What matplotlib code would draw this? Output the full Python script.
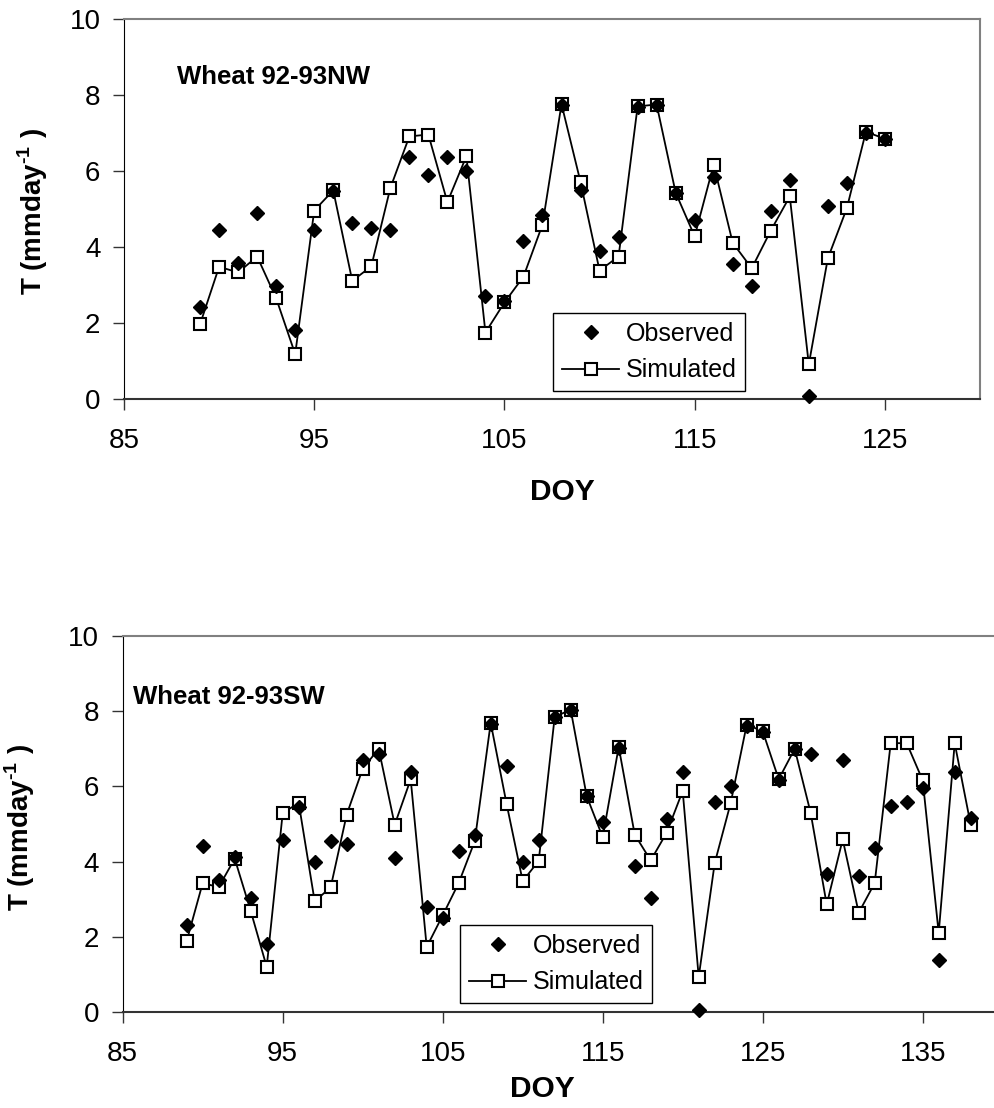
import numpy as np
import matplotlib
matplotlib.use("Agg")
import matplotlib.pyplot as plt

plt.rcParams['font.family'] = ['Liberation Sans', 'DejaVu Sans']
plt.rcParams['mathtext.fontset'] = 'custom'
plt.rcParams['mathtext.rm'] = 'Liberation Sans:bold'
plt.rcParams['mathtext.bf'] = 'Liberation Sans:bold'

# Wheat 92-93 NW
doy_nw = list(range(89, 126))
obs_nw = [2.43, 4.46, 3.57, 4.89, 2.98, 1.82, 4.46, 5.47, 4.63, 4.50,
          4.46, 6.37, 5.90, 6.37, 5.99, 2.72, 2.57, 4.15, 4.85, 7.75,
          5.51, 3.89, 4.26, 7.68, 7.73, 5.41, 4.72, 5.84, 3.55, 2.98,
          4.94, 5.77, 0.08, 5.09, 5.68, 7.00, 6.83]
sim_nw = [1.97, 3.48, 3.33, 3.75, 2.65, 1.18, 4.96, 5.49, 3.11, 3.49,
          5.55, 6.91, 6.96, 5.18, 6.39, 1.75, 2.54, 3.22, 4.59, 7.76,
          5.71, 3.38, 3.75, 7.70, 7.75, 5.43, 4.28, 6.17, 4.11, 3.44,
          4.43, 5.33, 0.91, 3.70, 5.02, 7.03, 6.85]

# Wheat 92-93 SW
doy_sw = list(range(89, 139))
obs_sw = [2.31, 4.41, 3.52, 4.12, 3.04, 1.82, 4.57, 5.44, 3.99, 4.54,
          4.46, 6.71, 6.87, 4.10, 6.38, 2.78, 2.50, 4.27, 4.70, 7.66,
          6.54, 3.99, 4.58, 7.84, 8.04, 5.74, 5.05, 7.03, 3.88, 3.04,
          5.12, 6.38, 0.05, 5.59, 6.01, 7.61, 7.45, 6.16, 7.00, 6.87,
          3.66, 6.71, 3.61, 4.36, 5.48, 5.59, 5.96, 1.37, 6.38, 5.16]
sim_sw = [1.89, 3.43, 3.32, 4.08, 2.69, 1.20, 5.29, 5.56, 2.94, 3.32,
          5.25, 6.47, 7.00, 4.98, 6.19, 1.73, 2.57, 3.43, 4.54, 7.69,
          5.52, 3.48, 4.02, 7.85, 8.04, 5.74, 4.65, 7.05, 4.72, 4.03,
          4.77, 5.88, 0.93, 3.96, 5.56, 7.64, 7.47, 6.19, 7.00, 5.29,
          2.86, 4.59, 2.64, 3.43, 7.15, 7.15, 6.16, 2.10, 7.15, 4.98]

W, H = 994, 1108
fig = plt.figure(figsize=(W / 100, H / 100), dpi=100)


def px(x0, y0, x1, y1):
    # pixel box -> figure fraction rect
    return [x0 / W, 1 - y1 / H, (x1 - x0) / W, (y1 - y0) / H]


def panel(rect, doy, obs, sim, xmax, xticks, title, title_xy, leg_xy,
          ylab_x, doy_xy, right_spine):
    ax = fig.add_axes(rect)
    ax.plot(doy, sim, '-', color='black', lw=1.3, marker='s', ms=8,
            mfc='white', mec='black', mew=1.5, zorder=2, label='Simulated')
    ax.plot(doy, obs, 'D', color='black', ms=7.5, lw=0, zorder=3,
            label='Observed', clip_on=False)
    ax.set_xlim(85, xmax)
    ax.set_ylim(0, 10)
    ax.set_xticks(xticks)
    ax.set_yticks(range(0, 11, 2))
    ax.tick_params(axis='both', direction='out', length=8, width=1,
                   labelsize=20, color='#333333')
    ax.tick_params(axis='x', pad=13)
    ax.tick_params(axis='y', pad=9)
    ax.spines['top'].set_color('#808080')
    ax.spines['top'].set_linewidth(1.5)
    ax.spines['right'].set_color('#808080')
    ax.spines['right'].set_linewidth(1.5)
    ax.spines['right'].set_visible(right_spine)
    ax.spines['left'].set_color('black')
    ax.spines['bottom'].set_color('#333333')
    ax.spines['bottom'].set_linewidth(1.5)

    fig.text(title_xy[0] / W, 1 - title_xy[1] / H, title, fontsize=18.5,
             fontweight='bold', ha='left', va='center')
    fig.text(ylab_x[0] / W, 1 - ylab_x[1] / H,
             r'T (mmday$^{\text{-1}}$ )', fontsize=20, fontweight='bold',
             rotation=90, ha='center', va='center')
    fig.text(doy_xy[0] / W, 1 - doy_xy[1] / H, 'DOY', fontsize=21.5,
             fontweight='bold', ha='center', va='center')

    h, l = ax.get_legend_handles_labels()
    leg = ax.legend(h[::-1], l[::-1], loc='upper left',
                    bbox_to_anchor=(leg_xy[0] / W, 1 - leg_xy[1] / H),
                    bbox_transform=fig.transFigure, fontsize=18,
                    frameon=True, fancybox=False, edgecolor='black',
                    framealpha=1, borderpad=0.35, handlelength=2.3,
                    handletextpad=0.25, labelspacing=0.5, borderaxespad=0)
    leg.get_frame().set_linewidth(1)
    return ax


panel(px(124, 19, 980, 399), doy_nw, obs_nw, sim_nw, 130,
      range(85, 126, 10), 'Wheat 92-93NW', (177, 77), (553, 313),
      (33, 211), (562, 492), True)
panel(px(122.7, 636, 1002.7, 1012), doy_sw, obs_sw, sim_sw, 140,
      range(85, 136, 10), 'Wheat 92-93SW', (133, 697), (460, 925),
      (20, 827), (542, 1089), False)

fig.savefig('out.png', dpi=100)
